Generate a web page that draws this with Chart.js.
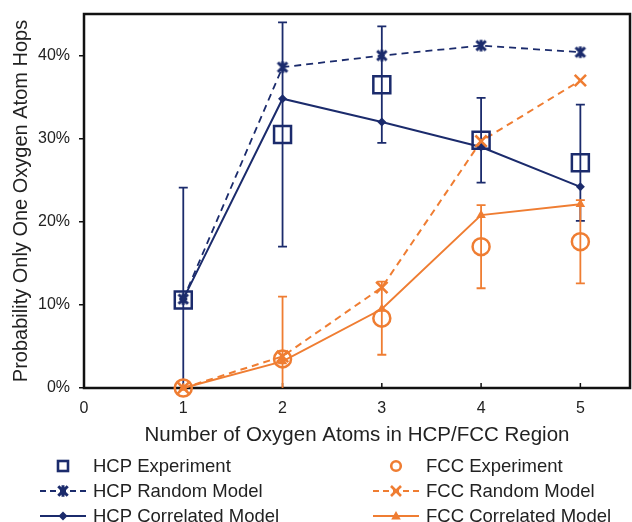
<!DOCTYPE html>
<html lang="en">
<head>
<meta charset="UTF-8">
<title>Oxygen Atom Hops</title>
<script src="https://cdn.jsdelivr.net/npm/chart.js"></script>
<style>
  html, body { margin: 0; padding: 0; background: #fff; }
  canvas { display: block; }
</style>
</head>
<body>
<canvas id="hopChart" width="632" height="522"></canvas>
<script>
// tick labels
const xTicks = [0, 1, 2, 3, 4, 5];
const yTicks = [0, 10, 20, 30, 40];

// number of oxygen atoms in the region
const nAtoms = [1, 2, 3, 4, 5];

// probabilities (%)
const hcpExperiment = [10.6, 30.5, 36.5, 29.8, 27.1];
const hcpExperimentErr = [13.5, 13.5, 7.0, 5.1, 7.0];
const hcpRandom = [10.7, 38.6, 40.0, 41.2, 40.4];
const hcpCorrelated = [10.7, 34.8, 32.0, 29.0, 24.2];

const fccExperiment = [0, 3.5, 8.4, 17.0, 17.6];
const fccExperimentErr = [0, 7.5, 4.4, 5.0, 5.0];
const fccRandom = [0, 3.8, 12.1, 29.7, 37.0];
const fccCorrelated = [0, 3.2, 9.5, 20.8, 22.1];

const NAVY = '#1b2b6c';
const ORANGE = '#ef7d32';
const TEXT = '#222';
const FONT = '"Liberation Sans", Arial, sans-serif';

function pts(ys) {
    return ys.map((y, i) => ({ x: nAtoms[i], y: y }));
}

// asterisk marker (X with a vertical bar), like the spreadsheet "star"
function makeStar(color) {
    const c = document.createElement('canvas');
    c.width = 14; c.height = 14;
    const g = c.getContext('2d');
    g.strokeStyle = color;
    g.lineWidth = 3;
    g.beginPath();
    g.moveTo(2.3, 2.3); g.lineTo(11.7, 11.7);
    g.moveTo(11.7, 2.3); g.lineTo(2.3, 11.7);
    g.moveTo(7, 1.2); g.lineTo(7, 12.8);
    g.stroke();
    return c;
}
const navyStar = makeStar(NAVY);

const legendItems = [
    { text: 'HCP Experiment', color: NAVY, marker: 'square', line: null },
    { text: 'FCC Experiment', color: ORANGE, marker: 'circle', line: null },
    { text: 'HCP Random Model', color: NAVY, marker: 'star', line: [6, 4] },
    { text: 'FCC Random Model', color: ORANGE, marker: 'cross', line: [6, 4] },
    { text: 'HCP Correlated Model', color: NAVY, marker: 'diamond', line: [] },
    { text: 'FCC Correlated Model', color: ORANGE, marker: 'triangle', line: [] }
];

function drawMarker(ctx, kind, x, y, color) {
    ctx.save();
    ctx.strokeStyle = color;
    ctx.fillStyle = color;
    ctx.setLineDash([]);
    ctx.lineWidth = 2.6;
    ctx.beginPath();
    if (kind === 'square') {
        ctx.strokeRect(x - 5, y - 5, 10, 10);
    } else if (kind === 'circle') {
        ctx.arc(x, y, 4.8, 0, Math.PI * 2);
        ctx.stroke();
    } else if (kind === 'star') {
        ctx.drawImage(navyStar, x - 7, y - 7);
    } else if (kind === 'cross') {
        ctx.moveTo(x - 5, y - 5); ctx.lineTo(x + 5, y + 5);
        ctx.moveTo(x + 5, y - 5); ctx.lineTo(x - 5, y + 5);
        ctx.stroke();
    } else if (kind === 'diamond') {
        ctx.moveTo(x, y - 4.5); ctx.lineTo(x + 4.5, y);
        ctx.lineTo(x, y + 4.5); ctx.lineTo(x - 4.5, y);
        ctx.closePath(); ctx.fill();
    } else if (kind === 'triangle') {
        ctx.moveTo(x, y - 5); ctx.lineTo(x + 4.8, y + 3.5);
        ctx.lineTo(x - 4.8, y + 3.5);
        ctx.closePath(); ctx.fill();
    }
    ctx.restore();
}

// frame, inner x ticks, error bars and legend
const decorations = {
    id: 'decorations',
    beforeDatasetsDraw(chart) {
        const { ctx, chartArea: a, scales } = chart;
        ctx.save();
        ctx.strokeStyle = '#111';
        ctx.lineWidth = 2.5;
        ctx.strokeRect(a.left, a.top, a.right - a.left, a.bottom - a.top);
        ctx.lineWidth = 1.5;
        ctx.beginPath();
        xTicks.forEach(v => {
            const px = scales.x.getPixelForValue(v);
            ctx.moveTo(px, a.bottom);
            ctx.lineTo(px, a.bottom - 5);
        });
        ctx.stroke();

        // error bars
        const bars = [[hcpExperiment, hcpExperimentErr, NAVY], [fccExperiment, fccExperimentErr, ORANGE]];
        ctx.lineWidth = 1.8;
        bars.forEach(([vals, errs, color]) => {
            ctx.strokeStyle = color;
            vals.forEach((v, i) => {
                if (!errs[i]) return;
                const px = scales.x.getPixelForValue(nAtoms[i]);
                const top = scales.y.getPixelForValue(v + errs[i]);
                const lowVal = v - errs[i];
                const bot = scales.y.getPixelForValue(Math.max(lowVal, 0));
                ctx.beginPath();
                ctx.moveTo(px, top); ctx.lineTo(px, bot);
                ctx.moveTo(px - 4.5, top); ctx.lineTo(px + 4.5, top);
                if (lowVal >= 0) {
                    ctx.moveTo(px - 4.5, bot); ctx.lineTo(px + 4.5, bot);
                }
                ctx.stroke();
            });
        });
        ctx.restore();
    },
    afterDraw(chart) {
        const ctx = chart.ctx;
        const colX = [40, 373];
        const rowY = [466, 491, 516];
        ctx.save();
        ctx.font = '18.5px ' + FONT;
        ctx.fillStyle = TEXT;
        ctx.textBaseline = 'middle';
        legendItems.forEach((item, i) => {
            const x0 = colX[i % 2];
            const y = rowY[Math.floor(i / 2)];
            if (item.line) {
                ctx.strokeStyle = item.color;
                ctx.lineWidth = 2;
                ctx.setLineDash(item.line);
                ctx.beginPath();
                ctx.moveTo(x0, y); ctx.lineTo(x0 + 46, y);
                ctx.stroke();
                ctx.setLineDash([]);
            }
            drawMarker(ctx, item.marker, x0 + 23, y, item.color);
            ctx.fillStyle = TEXT;
            ctx.fillText(item.text, x0 + 53, y + 1);
        });
        ctx.restore();
    }
};

const ctx = document.getElementById('hopChart').getContext('2d');

new Chart(ctx, {
    type: 'scatter',
    data: {
        datasets: [
            {
                label: 'HCP Experiment', data: pts(hcpExperiment), showLine: false,
                pointStyle: 'rect', pointRadius: 12, pointBorderWidth: 2.5,
                borderColor: NAVY, backgroundColor: 'transparent', clip: false
            },
            {
                label: 'FCC Experiment', data: pts(fccExperiment), showLine: false,
                pointStyle: 'circle', pointRadius: 8.5, pointBorderWidth: 2.5,
                borderColor: ORANGE, backgroundColor: 'transparent', clip: false
            },
            {
                label: 'HCP Random Model', data: pts(hcpRandom), showLine: true,
                borderColor: NAVY, borderWidth: 1.8, borderDash: [7, 5],
                pointStyle: navyStar, clip: false
            },
            {
                label: 'FCC Random Model', data: pts(fccRandom), showLine: true,
                borderColor: ORANGE, borderWidth: 2, borderDash: [7, 5],
                pointStyle: 'crossRot', pointRadius: 8, pointBorderWidth: 2.6,
                pointBorderColor: ORANGE, clip: false
            },
            {
                label: 'HCP Correlated Model', data: pts(hcpCorrelated), showLine: true,
                borderColor: NAVY, backgroundColor: NAVY, borderWidth: 2,
                pointStyle: 'rectRot', pointRadius: 4.5, pointBorderWidth: 0, clip: false
            },
            {
                label: 'FCC Correlated Model', data: pts(fccCorrelated), showLine: true,
                borderColor: ORANGE, backgroundColor: ORANGE, borderWidth: 2,
                pointStyle: 'triangle', pointRadius: 5.5, pointBorderWidth: 0, clip: false
            }
        ]
    },
    options: {
        responsive: false,
        animation: false,
        devicePixelRatio: 1,
        layout: { autoPadding: false, padding: { left: 0, right: 2, top: 14, bottom: 74 } },
        plugins: {
            legend: { display: false },
            tooltip: { enabled: false }
        },
        scales: {
            x: {
                type: 'linear', min: 0, max: 5.5,
                afterBuildTicks: s => { s.ticks = xTicks.map(v => ({ value: v })); },
                afterFit: s => { s.height = 60; s.paddingLeft = 0; s.paddingRight = 0; },
                grid: { display: false, drawTicks: false },
                border: { display: false },
                ticks: { padding: 11, color: TEXT, font: { size: 16, family: FONT } },
                title: {
                    display: true, text: 'Number of Oxygen Atoms in HCP/FCC Region',
                    color: TEXT, font: { size: 20.5, family: FONT },
                    padding: { top: 0, bottom: 0 }
                }
            },
            y: {
                type: 'linear', min: 0, max: 45,
                afterBuildTicks: s => { s.ticks = yTicks.map(v => ({ value: v })); },
                afterFit: s => { s.width = 84; s.paddingTop = 0; s.paddingBottom = 0; },
                grid: { drawOnChartArea: false, drawTicks: true, tickLength: 5, color: '#111', lineWidth: 1.5 },
                border: { display: false },
                ticks: {
                    padding: 9, color: TEXT, font: { size: 16, family: FONT },
                    callback: v => v + '%'
                },
                title: {
                    display: true, text: 'Probability Only One Oxygen Atom Hops',
                    color: TEXT, font: { size: 20, family: FONT },
                    padding: { top: 9, bottom: 0 }
                }
            }
        }
    },
    plugins: [decorations]
});
</script>
</body>
</html>
